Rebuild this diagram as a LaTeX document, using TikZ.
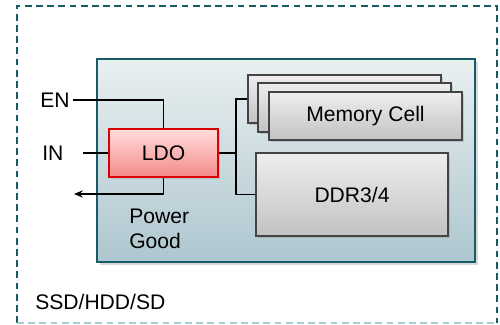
\documentclass[tikz,border=0pt]{standalone}
\usepackage{fontspec}
\setmainfont{Liberation Sans}
\usepackage{tikz}
\usetikzlibrary{arrows.meta, shadows}

\definecolor{boxteal}{HTML}{175A68}
\definecolor{boxpale}{HTML}{A9CBD2}
\definecolor{boardtop}{HTML}{E9F0F0}
\definecolor{boardbot}{HTML}{AEC6CF}
\definecolor{ldoline}{HTML}{D80000}
\definecolor{ldotop}{HTML}{FFDCDC}
\definecolor{ldobot}{HTML}{F58A8A}
\definecolor{celltop}{HTML}{EEEEEE}
\definecolor{cellbot}{HTML}{C2C2C2}
\definecolor{cellline}{HTML}{444444}

\tikzset{
    every node/.style={font=\fontsize{15}{18}\selectfont},
    wire/.style={line width=1.4pt, black},
    outline/.style={line width=1.4pt, dash pattern=on 0.17cm off 0.11cm},
    cellbox/.style={draw=cellline, line width=1.5pt, top color=celltop, bottom color=cellbot,
        drop shadow={opacity=0.3, shadow xshift=0.05cm, shadow yshift=-0.05cm}},
}

\begin{document}
\begin{tikzpicture}
        \useasboundingbox (0,0) rectangle (12.5,-8.125);

        \draw[outline, boxteal] (0.425,-8.075) -- (0.425,-0.15) -- (12.425,-0.15) -- (12.425,-8.075);
        \draw[outline, boxpale] (0.425,-8.075) -- (12.425,-8.075);

        \draw[boxteal, line width=1.8pt, top color=boardtop, bottom color=boardbot,
            drop shadow={opacity=0.3, shadow xshift=0.07cm, shadow yshift=-0.07cm}]
            (2.425,-1.475) rectangle (11.875,-6.55);

        \node[draw=ldoline, line width=1.5pt, top color=ldotop, bottom color=ldobot,
            minimum width=2.725cm, minimum height=1.2cm, inner sep=0,
            drop shadow={opacity=0.25, shadow xshift=0.05cm, shadow yshift=-0.05cm}]
            (ldo) at (4.0875,-3.825) {LDO};

        \node[cellbox, minimum width=4.825cm, minimum height=1.2cm] (memback) at (8.6125,-2.475) {};
        \node[cellbox, minimum width=4.825cm, minimum height=1.225cm] (memmid) at (8.8625,-2.6875) {};
        \node[cellbox, minimum width=4.825cm, minimum height=1.2cm] (memfront) at (9.1375,-2.9) {Memory Cell};
        \node[cellbox, minimum width=4.8cm, minimum height=2.075cm] (ddr) at (8.8,-4.8625) {DDR3/4};

        \node[anchor=east, inner sep=0.075cm] (en) at (1.825,-2.5) {EN};
        \node[anchor=west, inner sep=0] (in) at (1.05,-3.825) {IN};
        \node[anchor=west, inner sep=0, align=left] (pg) at (3.225,-5.725) {Power\\Good};
        \node[anchor=west, inner sep=0] (host) at (0.875,-7.55) {SSD/HDD/SD};

        \coordinate (inend) at (2.075,-3.825);
        \coordinate (pgout) at (1.85,-4.85);
        \coordinate (split) at (5.9,-3.825);

        \draw[wire] (en.east) -| (ldo.north);
        \draw[wire] (inend) -- (ldo.west);
        \draw[wire, -{Stealth[length=0.22cm, width=0.18cm]}] (ldo.south) |- (pgout);
        \draw[wire] (ldo.east) -- (split);
        \draw[wire] (split) |- (memback.west);
        \draw[wire] (split) |- (ddr.west);
    \end{tikzpicture}
\end{document}
